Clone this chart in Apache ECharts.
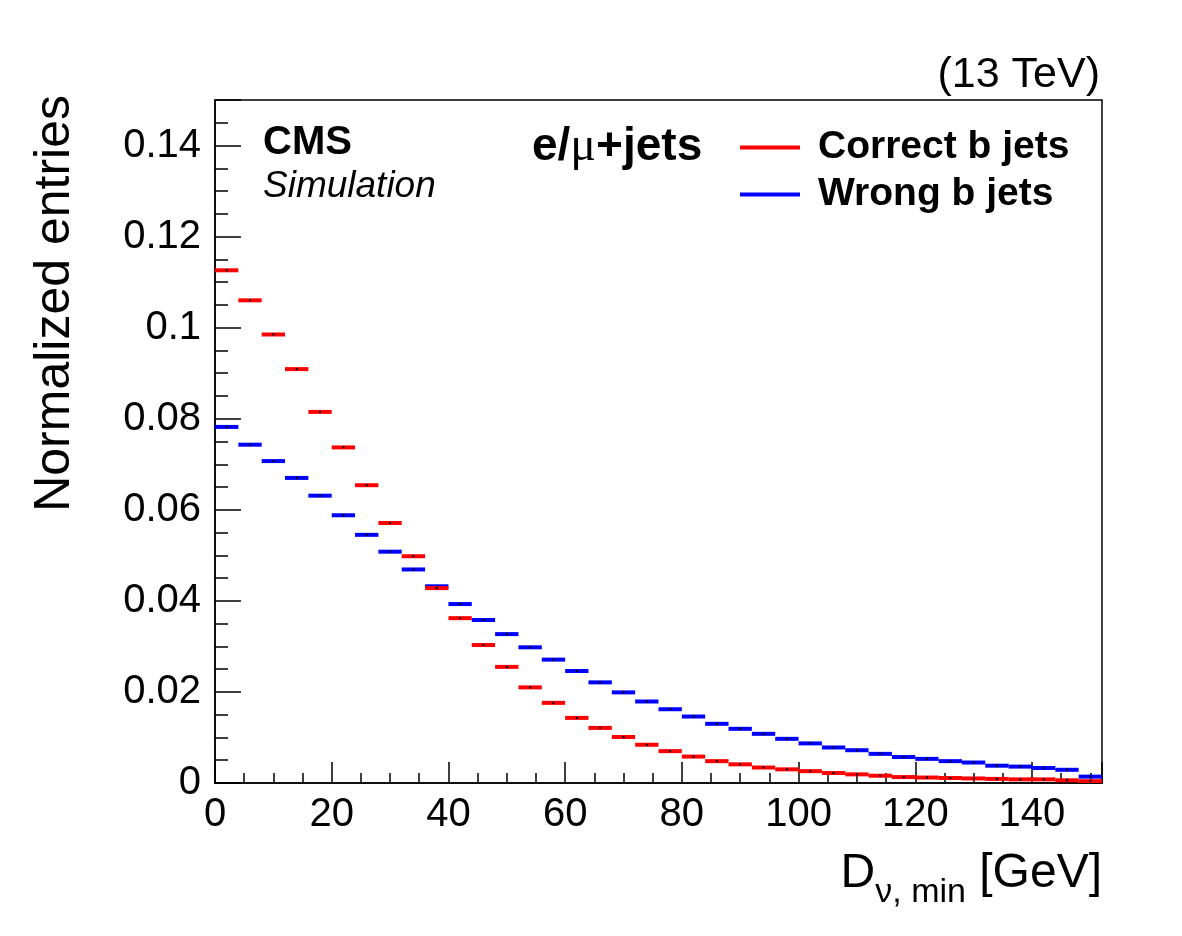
<!DOCTYPE html>
<html>
<head>
<meta charset="utf-8">
<script src="https://cdn.jsdelivr.net/npm/echarts@6/dist/echarts.min.js"></script>
<style>
  html, body { margin: 0; padding: 0; background: #fff; }
  #main { width: 1182px; height: 936px; }
</style>
</head>
<body>
<div id="main"></div>
<script>
// bin low edges [GeV], bin width 4
var binLow = [0, 4, 8, 12, 16, 20, 24, 28, 32, 36, 40, 44, 48, 52, 56, 60, 64, 68, 72,
  76, 80, 84, 88, 92, 96, 100, 104, 108, 112, 116, 120, 124, 128, 132, 136, 140, 144, 148]
var binWidth = 4

var correctB = [0.1126, 0.1060, 0.0985, 0.0909, 0.0815, 0.0737, 0.0654, 0.0571, 0.0498, 0.0428,
  0.0362, 0.0303, 0.0255, 0.0210, 0.0176, 0.0143, 0.0121, 0.0101, 0.0084, 0.0070,
  0.0058, 0.0048, 0.0041, 0.0034, 0.0030, 0.0026, 0.0022, 0.0019, 0.0016, 0.0013,
  0.0012, 0.0011, 0.0010, 0.0009, 0.0008, 0.0008, 0.0006, 0.0004]

var wrongB = [0.0782, 0.0743, 0.0707, 0.0670, 0.0631, 0.0588, 0.0545, 0.0508, 0.0469, 0.0432,
  0.0393, 0.0358, 0.0327, 0.0298, 0.0271, 0.0246, 0.0221, 0.0199, 0.0179, 0.0162,
  0.0146, 0.0130, 0.0119, 0.0108, 0.0097, 0.0087, 0.0078, 0.0072, 0.0064, 0.0057,
  0.0053, 0.0048, 0.0045, 0.0038, 0.0036, 0.0033, 0.0029, 0.0014]

var FONT = 'Liberation Sans'

function toBins(values) {
  let out = []
  for (let i in values) {
    out.push([binLow[i], binLow[i] + binWidth, values[i]])
  }
  return out
}

// one horizontal segment per bin, with a small black marker in the middle
function renderBin(params, api) {
  let p0 = api.coord([api.value(0), api.value(2)])
  let p1 = api.coord([api.value(1), api.value(2)])
  let mid = (p0[0] + p1[0]) / 2
  return {
    type: 'group',
    children: [
      {
        type: 'rect',
        shape: { x: p0[0], y: p0[1] - 2, width: p1[0] - p0[0], height: 4 },
        style: { fill: api.visual('color') }
      },
      {
        type: 'rect',
        shape: { x: mid - 1, y: p0[1] - 1, width: 2, height: 2 },
        style: { fill: '#000' }
      }
    ]
  }
}

function onMajor(v, step) {
  return Math.abs(v / step - Math.round(v / step)) < 1e-6
}

var chart = echarts.init(document.getElementById('main'), null, { renderer: 'canvas' })

var option = {
  backgroundColor: '#fff',
  animation: false,
  grid: {
    left: 215, right: 80, top: 100, bottom: 153,
    show: true, borderColor: '#000', borderWidth: 1.5
  },
  legend: {
    left: 735, top: 123, orient: 'vertical',
    icon: 'rect', itemWidth: 60, itemHeight: 4, itemGap: 8,
    data: ['Correct b jets', 'Wrong b jets'],
    textStyle: { fontFamily: FONT, fontSize: 39, fontWeight: 'bold', color: '#000', padding: [0, 0, 0, 13] }
  },
  xAxis: [
    {
      type: 'value', min: 0, max: 152, interval: 20, position: 'bottom',
      axisLine: { show: true, lineStyle: { color: '#000', width: 1.5 } },
      axisTick: { inside: true, length: 21, lineStyle: { color: '#000', width: 1.5 } },
      axisLabel: {
        fontFamily: FONT, fontSize: 40, color: '#000', margin: 12,
        formatter: function (v) { return onMajor(v, 20) ? String(v) : '' }
      },
      splitLine: { show: false }
    },
    {
      type: 'value', min: 0, max: 152, interval: 5, position: 'bottom',
      axisLine: { show: false },
      axisTick: { inside: true, length: 10, lineStyle: { color: '#000', width: 1.5 } },
      axisLabel: { show: false },
      splitLine: { show: false }
    }
  ],
  yAxis: [
    {
      type: 'value', min: 0, max: 0.15, interval: 0.02, position: 'left',
      axisLine: { show: true, lineStyle: { color: '#000', width: 1.5 } },
      axisTick: { inside: true, length: 26, lineStyle: { color: '#000', width: 1.5 } },
      axisLabel: {
        fontFamily: FONT, fontSize: 40, color: '#000', margin: 14,
        formatter: function (v) { return onMajor(v, 0.02) ? String(+v.toFixed(2)) : '' }
      },
      splitLine: { show: false }
    },
    {
      type: 'value', min: 0, max: 0.15, interval: 0.005, position: 'left',
      axisLine: { show: false },
      axisTick: { inside: true, length: 13, lineStyle: { color: '#000', width: 1.5 } },
      axisLabel: { show: false },
      splitLine: { show: false }
    }
  ],
  graphic: [
    {
      type: 'text', x: 55, y: 95, rotation: Math.PI / 2,
      style: { text: 'Normalized entries', fontFamily: FONT, fontSize: 50, fill: '#000', align: 'right', verticalAlign: 'middle' }
    },
    {
      type: 'text', x: 1102, y: 850,
      style: {
        text: '{b|D}{s|ν, min}{b| [GeV]}', align: 'right', verticalAlign: 'top',
        rich: {
          b: { fontFamily: FONT, fontSize: 48, lineHeight: 60, verticalAlign: 'top', fill: '#000' },
          s: { fontFamily: FONT, fontSize: 34, lineHeight: 30, verticalAlign: 'bottom', fill: '#000' }
        }
      }
    },
    {
      type: 'text', x: 1100, y: 75,
      style: { text: '(13 TeV)', fontFamily: FONT, fontSize: 43, fill: '#000', align: 'right', verticalAlign: 'middle' }
    },
    {
      type: 'text', x: 263, y: 143,
      style: { text: 'CMS', fontFamily: FONT, fontSize: 40, fontWeight: 'bold', fill: '#000', verticalAlign: 'middle' }
    },
    {
      type: 'text', x: 263, y: 187,
      style: { text: 'Simulation', fontFamily: FONT, fontSize: 37, fontStyle: 'italic', fill: '#000', verticalAlign: 'middle' }
    },
    {
      type: 'text', x: 532, y: 147,
      style: {
        text: '{a|e/}{m|μ}{a|+jets}', verticalAlign: 'middle',
        rich: {
          a: { fontFamily: FONT, fontSize: 46, fontWeight: 'bold', fill: '#000' },
          m: { fontFamily: 'Liberation Serif', fontSize: 48, fill: '#000' }
        }
      }
    }
  ],
  series: [
    {
      name: 'Wrong b jets', type: 'custom', renderItem: renderBin,
      xAxisIndex: 0, yAxisIndex: 0, clip: true,
      itemStyle: { color: '#0000ff' },
      encode: { x: [0, 1], y: 2 },
      data: toBins(wrongB)
    },
    {
      name: 'Correct b jets', type: 'custom', renderItem: renderBin,
      xAxisIndex: 0, yAxisIndex: 0, clip: true,
      itemStyle: { color: '#ff0000' },
      encode: { x: [0, 1], y: 2 },
      data: toBins(correctB)
    }
  ]
}

chart.setOption(option)
</script>
</body>
</html>
